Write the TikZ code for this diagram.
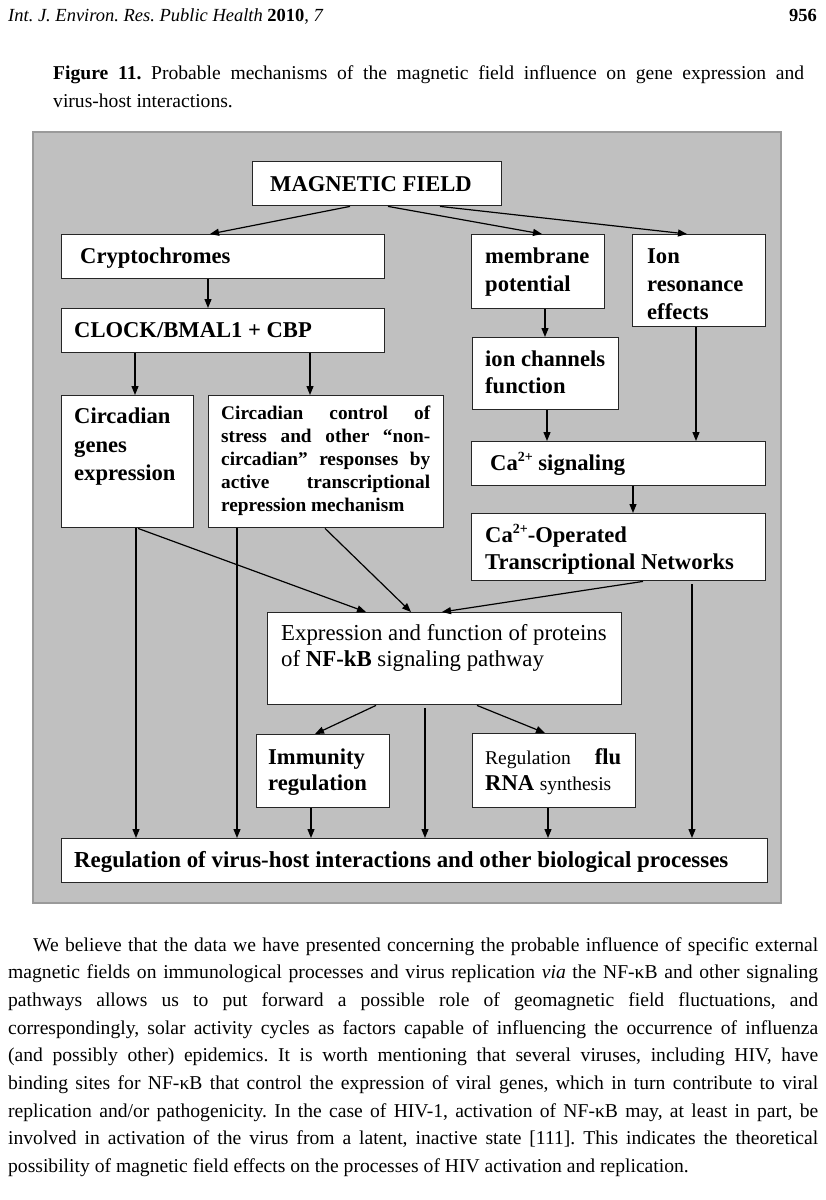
\documentclass[tikz,border=0pt]{standalone}
\usepackage{fontspec}
\setmainfont{Liberation Serif}
\usetikzlibrary{arrows.meta}
\definecolor{bggray}{HTML}{C0C0C0}
\definecolor{bgedge}{HTML}{9A9A9A}
\definecolor{boxedge}{HTML}{262626}
\frenchspacing
\newcommand\bigbf{\fontsize{22.6}{28}\selectfont\bfseries}
\newcommand\bigmd{\fontsize{22.8}{28}\selectfont\mdseries}
\newcommand\smallmd{\fontsize{19.5}{24}\selectfont\mdseries}
\newcommand\smallbf{\fontsize{19.3}{23}\selectfont\bfseries}
\newcommand\bodyfont{\fontsize{19.6}{27.7}\selectfont}
\newcommand\supcharge{\raisebox{8.5pt}{\fontsize{14}{14}\selectfont 2+}}
\tikzset{
  box/.style={draw=boxedge, line width=1.4pt, fill=white, anchor=north west, inner sep=0pt},
  txt/.style={anchor=base west, inner sep=0pt, font=\bigbf},
  ctl/.style={anchor=base west, inner sep=0pt, font=\smallbf},
  body/.style={anchor=base west, inner sep=0pt, font=\bodyfont},
  arr/.style={-{Triangle[length=9pt,width=7pt]}, line width=1.2pt, draw=black}
}
\newcommand\bx[5]{\node[box,minimum width=#4pt,minimum height=#5pt] (#1) at (#2,#3) {};}
\begin{document}
\begin{tikzpicture}[x=1pt,y=-1pt]
\useasboundingbox (0,0) rectangle (826,1200);
\fill[white] (0,0) rectangle (826,1200);

% header and caption
\node[body, font=\fontsize{18.5}{22}\selectfont] (hdr) at (8,21) {\textit{Int. J. Environ. Res. Public Health} \textbf{2010}, \textit{7}};
\node[body, anchor=base east, font=\fontsize{18.5}{22}\selectfont\bfseries] (pg) at (817,21) {956};
\node[body] (cap1) at (53,79) {\hbox to 751pt{\textbf{Figure 11.} Probable mechanisms of the magnetic field influence on gene expression and}};
\node[body] (cap2) at (53,107) {virus-host interactions.};

% background panel
\node[draw=bgedge, fill=bggray, line width=1.5pt, anchor=north west, minimum width=748pt, minimum height=771pt, inner sep=0pt] (bg) at (32,131) {};

% boxes
\bx{mf}{252}{161}{249}{44}
\bx{cry}{61}{234}{323}{44}
\bx{clk}{61}{308}{323}{44}
\bx{mem}{471}{234}{133}{74}
\bx{ion}{632}{234}{133}{92}
\bx{ich}{472}{337}{146}{72}
\bx{cas}{471}{441}{294}{44}
\bx{cao}{471}{513}{294}{67}
\bx{cge}{61}{395}{132}{132}
\bx{cct}{208}{395}{235}{132}
\bx{nfk}{267}{612}{354}{92}
\bx{imm}{256}{734}{133}{73}
\bx{flu}{472}{733}{163}{74}
\bx{reg}{61}{838}{706}{44}

% texts in boxes
\node[txt] (tmf) at (270,191) {MAGNETIC FIELD};
\node[txt] (tcry) at (80,263) {Cryptochromes};
\node[txt] (tclk) at (74,337) {CLOCK/BMAL1 + CBP};
\node[txt] (tmem1) at (485,263) {membrane};
\node[txt] (tmem2) at (485,291) {potential};
\node[txt] (tion1) at (647,263) {Ion};
\node[txt] (tion2) at (647,291) {resonance};
\node[txt] (tion3) at (647,319) {effects};
\node[txt] (tich1) at (485,366) {ion channels};
\node[txt] (tich2) at (485,393) {function};
\node[txt] (tcas) at (490,470) {Ca\supcharge{} signaling};
\node[txt] (tcao1) at (485,542) {Ca\supcharge-Operated};
\node[txt] (tcao2) at (485,569) {Transcriptional Networks};
\node[txt] (tcge1) at (74,423) {Circadian};
\node[txt] (tcge2) at (74,452) {genes};
\node[txt] (tcge3) at (74,480) {expression};
\node[ctl] (tcct1) at (221,419) {\hbox to 209pt{Circadian control of}};
\node[ctl] (tcct2) at (221,442) {\hbox to 209pt{stress and other “non-}};
\node[ctl] (tcct3) at (221,465) {\hbox to 209pt{circadian” responses by}};
\node[ctl] (tcct4) at (221,488) {\hbox to 209pt{active transcriptional}};
\node[ctl] (tcct5) at (221,511) {repression mechanism};
\node[txt, font=\bigmd] (tnf1) at (281,640) {Expression and function of proteins};
\node[txt, font=\bigmd] (tnf2) at (281,666) {of \textbf{NF-kB} signaling pathway};
\node[txt] (timm1) at (268,764) {Immunity};
\node[txt] (timm2) at (268,790) {regulation};
\node[txt] (tflu1) at (485,764) {\hbox to 136pt{{\smallmd Regulation}\hfill flu}};
\node[txt] (tflu2) at (485,790) {RNA {\smallmd synthesis}};
\node[txt, font=\fontsize{22.9}{28}\selectfont\bfseries] (treg) at (74,867) {Regulation of virus-host interactions and other biological processes};

% connectors
\draw[arr] ([xshift=98pt]mf.south west) -- ([xshift=149pt]cry.north west);
\draw[arr] ([xshift=136pt]mf.south west) -- ([xshift=71pt]mem.north west);
\draw[arr] ([xshift=188pt]mf.south west) -- ([xshift=55pt]ion.north west);
\draw[arr] ([xshift=147pt]cry.south west) -- ([xshift=147pt]clk.north west);
\draw[arr] ([xshift=74pt]clk.south west) -- ([xshift=74pt]cge.north west);
\draw[arr] ([xshift=249pt]clk.south west) -- ([xshift=102pt]cct.north west);
\draw[arr] ([xshift=74pt]mem.south west) -- ([xshift=73pt]ich.north west);
\draw[arr] ([xshift=75pt]ich.south west) -- ([xshift=76pt]cas.north west);
\draw[arr] ([xshift=64pt]ion.south west) -- ([xshift=225pt]cas.north west);
\draw[arr] ([xshift=162pt]cas.south west) -- ([xshift=162pt]cao.north west);
\draw[arr] ([xshift=75pt]cge.south west) -- ([xshift=75pt]reg.north west);
\draw[arr] ([xshift=77pt]cge.south west) -- ([xshift=99pt]nfk.north west);
\draw[arr] ([xshift=29pt]cct.south west) -- ([xshift=176pt]reg.north west);
\draw[arr] ([xshift=117pt]cct.south west) -- ([xshift=144pt]nfk.north west);
\draw[arr] ([xshift=172pt]cao.south west) -- ([xshift=175pt]nfk.north west);
\draw[arr] ([xshift=221pt,yshift=-3pt]cao.south west) -- ([xshift=631pt]reg.north west);
\draw[arr] ([xshift=109pt]nfk.south west) -- ([xshift=59pt]imm.north west);
\draw[arr] ([xshift=210pt]nfk.south west) -- ([xshift=73pt]flu.north west);
\draw[arr] ([xshift=158pt,yshift=-3pt]nfk.south west) -- ([xshift=364pt]reg.north west);
\draw[arr] ([xshift=55pt]imm.south west) -- ([xshift=250pt]reg.north west);
\draw[arr] ([xshift=76pt]flu.south west) -- ([xshift=487pt]reg.north west);

% body text
\node[body] (b1) at (33,951) {\hbox to 785pt{We believe that the data we have presented concerning the probable influence of specific external}};
\node[body] (b2) at (8,978.7) {\hbox to 810pt{magnetic fields on immunological processes and virus replication \textit{via} the NF-κB and other signaling}};
\node[body] (b3) at (8,1006.4) {\hbox to 810pt{pathways allows us to put forward a possible role of geomagnetic field fluctuations, and}};
\node[body] (b4) at (8,1034.1) {\hbox to 810pt{correspondingly, solar activity cycles as factors capable of influencing the occurrence of influenza}};
\node[body] (b5) at (8,1061.8) {\hbox to 810pt{(and possibly other) epidemics. It is worth mentioning that several viruses, including HIV, have}};
\node[body] (b6) at (8,1089.5) {\hbox to 810pt{binding sites for NF-κB that control the expression of viral genes, which in turn contribute to viral}};
\node[body] (b7) at (8,1117.2) {\hbox to 810pt{replication and/or pathogenicity. In the case of HIV-1, activation of NF-κB may, at least in part, be}};
\node[body] (b8) at (8,1144.9) {\hbox to 810pt{involved in activation of the virus from a latent, inactive state [111]. This indicates the theoretical}};
\node[body] (b9) at (8,1172.6) {possibility of magnetic field effects on the processes of HIV activation and replication.};
\end{tikzpicture}
\end{document}
